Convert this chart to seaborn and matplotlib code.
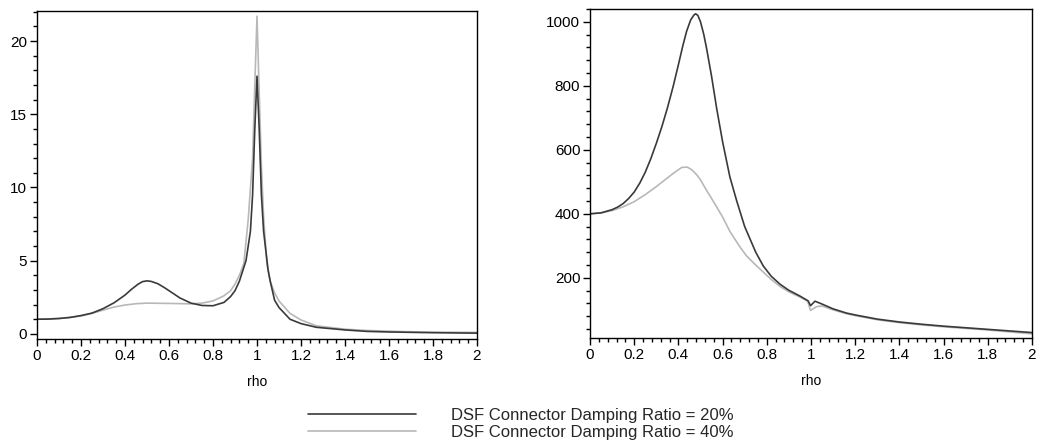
import numpy as np
import pandas as pd
import matplotlib
matplotlib.use("Agg")
import matplotlib.pyplot as plt
import seaborn as sns
from matplotlib.ticker import MultipleLocator, FormatStrFormatter

# Left panel: transmissibility vs rho
rho_l20 = [0, 0.05, 0.1, 0.15, 0.2, 0.25, 0.3, 0.35, 0.4, 0.43, 0.46, 0.48, 0.5, 0.52, 0.55,
           0.58, 0.6, 0.65, 0.7, 0.75, 0.8, 0.85, 0.88, 0.9, 0.92, 0.95, 0.97, 0.98, 0.99,
           1.0, 1.01, 1.02, 1.03, 1.05, 1.06, 1.08, 1.1, 1.15, 1.2, 1.27, 1.4, 1.5, 1.6,
           1.8, 2.0]
val_l20 = [1.0, 1.01, 1.05, 1.12, 1.25, 1.42, 1.72, 2.12, 2.65, 3.05, 3.4, 3.57, 3.62, 3.58, 3.42,
           3.15, 2.95, 2.45, 2.1, 1.94, 1.92, 2.15, 2.55, 2.95, 3.6, 5.0, 7.0, 9.5, 14.0,
           17.6, 14.0, 9.5, 7.0, 4.4, 3.6, 2.3, 1.8, 1.0, 0.7, 0.45, 0.27, 0.17, 0.13,
           0.08, 0.05]

rho_l40 = [0, 0.1, 0.2, 0.25, 0.3, 0.35, 0.4, 0.45, 0.5, 0.6, 0.7, 0.75, 0.8, 0.85, 0.88, 0.9,
           0.92, 0.94, 0.96, 0.98, 0.99, 1.0, 1.01, 1.02, 1.03, 1.045, 1.06, 1.08, 1.1, 1.15,
           1.2, 1.27, 1.4, 1.5, 1.68, 1.8, 2.0]
val_l40 = [1.0, 1.05, 1.22, 1.4, 1.62, 1.83, 1.97, 2.06, 2.1, 2.08, 2.05, 2.1, 2.25, 2.6, 2.95, 3.4,
           4.0, 4.8, 7.8, 12.0, 17.0, 21.7, 16.5, 11.5, 8.0, 4.8, 3.6, 2.8, 2.25, 1.4,
           0.95, 0.55, 0.32, 0.23, 0.15, 0.12, 0.1]

# Right panel
rho_r20 = [0, 0.05, 0.1, 0.125, 0.15, 0.175, 0.2, 0.226, 0.25, 0.275, 0.3, 0.325, 0.35, 0.377,
           0.4, 0.42, 0.437, 0.455, 0.47, 0.478, 0.488, 0.5, 0.515, 0.528, 0.55, 0.573, 0.6,
           0.633, 0.664, 0.7, 0.75, 0.784, 0.82, 0.86, 0.9, 0.95, 0.987, 0.998, 1.018, 1.05,
           1.1, 1.16, 1.2, 1.3, 1.4, 1.5, 1.6, 1.7, 1.8, 1.9, 2.0]
val_r20 = [400, 403, 413, 421, 432, 448, 468, 497, 530, 572, 620, 672, 730, 800,
           866, 925, 970, 1005, 1021, 1025, 1020, 1000, 960, 915, 830, 730, 625,
           515, 440, 360, 280, 237, 205, 180, 161, 143, 128, 113, 127, 118,
           103, 90, 84, 71, 62, 55, 49, 44, 39, 34, 29]

rho_r40 = [0, 0.05, 0.1, 0.15, 0.2, 0.25, 0.3, 0.35, 0.38, 0.415, 0.44, 0.46, 0.483, 0.5, 0.52,
           0.543, 0.57, 0.6, 0.633, 0.68, 0.709, 0.75, 0.784, 0.82, 0.86, 0.9, 0.95, 0.985,
           0.998, 1.025, 1.05, 1.1, 1.16, 1.2, 1.3, 1.4, 1.5, 1.6, 1.7, 1.8, 1.9, 2.0]
val_r40 = [400, 403, 410, 422, 438, 460, 485, 512, 528, 545, 546, 538, 522, 506, 482,
           456, 425, 390, 345, 295, 268, 240, 218, 195, 173, 156, 140, 127,
           98, 110, 112, 100, 88, 82, 69, 60, 53, 47, 42, 37, 31, 25]

labels = ["DSF Connector Damping Ratio = 20%", "DSF Connector Damping Ratio = 40%"]
colors = ["#3a3a3a", "#b8b8b8"]

sns.set_style("ticks")
plt.rcParams["font.family"] = ["Liberation Sans", "DejaVu Sans"]

fig = plt.figure(figsize=(10.38, 4.47), dpi=100)
ax1 = fig.add_axes([37 / 1038, 1 - 339 / 447, 440 / 1038, 328 / 447])
ax2 = fig.add_axes([590 / 1038, 1 - 338 / 447, 442 / 1038, 329 / 447])

sns.lineplot(x=rho_l40, y=val_l40, ax=ax1, color=colors[1], lw=1.2)
sns.lineplot(x=rho_l20, y=val_l20, ax=ax1, color=colors[0], lw=1.2)
sns.lineplot(x=rho_r40, y=val_r40, ax=ax2, color=colors[1], lw=1.2)
sns.lineplot(x=rho_r20, y=val_r20, ax=ax2, color=colors[0], lw=1.2)

ax1.set_ylim(-0.35, 22.05)
ax1.yaxis.set_major_locator(MultipleLocator(5))
ax1.yaxis.set_minor_locator(MultipleLocator(1))
ax2.set_ylim(12, 1040)
ax2.yaxis.set_major_locator(MultipleLocator(200))
ax2.yaxis.set_minor_locator(MultipleLocator(40))

for ax in (ax1, ax2):
    ax.set_xlim(0, 2)
    ax.xaxis.set_major_locator(MultipleLocator(0.2))
    ax.xaxis.set_minor_locator(MultipleLocator(0.04))
    ax.xaxis.set_major_formatter(FormatStrFormatter("%g"))
    ax.tick_params(which="major", length=5, width=1, labelsize=11, pad=2,
                   color="black", labelcolor="black")
    ax.tick_params(which="minor", length=3, width=1, color="black")
    for s in ax.spines.values():
        s.set_visible(True)
        s.set_color("black")
        s.set_linewidth(1)
    ax.set_xlabel("rho", fontsize=10, labelpad=9, color="black")
    ax.set_ylabel("")

handles = [plt.Line2D([], [], color=c, lw=1.2) for c in colors]
fig.legend(handles, labels, loc="center left", bbox_to_anchor=(308 / 1038, 0.052),
           frameon=False, borderpad=0, borderaxespad=0, fontsize=12,
           handlelength=6.5, handletextpad=2.1, labelspacing=0.15)

fig.savefig("out.png", dpi=100)
